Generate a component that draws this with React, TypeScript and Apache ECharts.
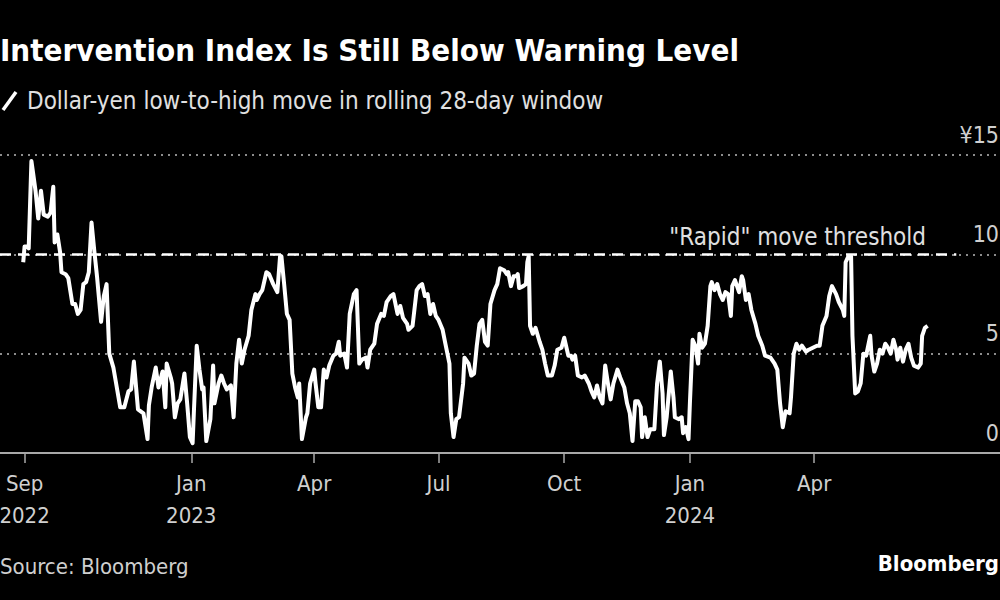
import React, { useEffect, useRef } from "react";
import * as echarts from "echarts";

const DATES = [
  "2022-08-31","2022-09-01","2022-09-03","2022-09-04","2022-09-06","2022-09-07","2022-09-09","2022-09-11","2022-09-13","2022-09-15",
  "2022-09-18","2022-09-20","2022-09-22","2022-09-23","2022-09-25","2022-09-27","2022-09-28","2022-10-01","2022-10-03","2022-10-06",
  "2022-10-08","2022-10-10","2022-10-12","2022-10-14","2022-10-16","2022-10-18","2022-10-20","2022-10-22","2022-10-24","2022-10-27",
  "2022-10-29","2022-10-31","2022-11-02","2022-11-05","2022-11-07","2022-11-10","2022-11-13","2022-11-16","2022-11-18","2022-11-20",
  "2022-11-23","2022-11-27","2022-11-30","2022-12-01","2022-12-03","2022-12-06","2022-12-08","2022-12-11","2022-12-13","2022-12-14",
  "2022-12-17","2022-12-18","2022-12-20","2022-12-22","2022-12-24","2022-12-27","2022-12-29","2022-12-31","2023-01-02","2023-01-03",
  "2023-01-05","2023-01-07","2023-01-09","2023-01-10","2023-01-12","2023-01-15","2023-01-17","2023-01-18","2023-01-21","2023-01-23",
  "2023-01-25","2023-01-27","2023-01-30","2023-02-01","2023-02-03","2023-02-05","2023-02-07","2023-02-09","2023-02-12","2023-02-14",
  "2023-02-17","2023-02-18","2023-02-20","2023-02-22","2023-02-25","2023-02-27","2023-03-02","2023-03-05","2023-03-07","2023-03-08",
  "2023-03-10","2023-03-12","2023-03-14","2023-03-16","2023-03-18","2023-03-20","2023-03-21","2023-03-23","2023-03-26","2023-03-27",
  "2023-03-29","2023-04-01","2023-04-02","2023-04-04","2023-04-06","2023-04-08","2023-04-10","2023-04-12","2023-04-15","2023-04-17",
  "2023-04-19","2023-04-20","2023-04-23","2023-04-25","2023-04-27","2023-04-30","2023-05-02","2023-05-04","2023-05-06","2023-05-09",
  "2023-05-10","2023-05-12","2023-05-15","2023-05-17","2023-05-20","2023-05-22","2023-05-24","2023-05-27","2023-05-29","2023-06-01",
  "2023-06-03","2023-06-05","2023-06-08","2023-06-09","2023-06-12","2023-06-15","2023-06-17","2023-06-19","2023-06-21","2023-06-23",
  "2023-06-25","2023-06-27","2023-06-29","2023-07-01","2023-07-04","2023-07-06","2023-07-09","2023-07-10","2023-07-12","2023-07-14",
  "2023-07-16","2023-07-19","2023-07-20","2023-07-23","2023-07-25","2023-07-27","2023-07-29","2023-07-31","2023-08-02","2023-08-04",
  "2023-08-06","2023-08-08","2023-08-11","2023-08-13","2023-08-15","2023-08-18","2023-08-20","2023-08-21","2023-08-23","2023-08-25",
  "2023-08-27","2023-08-28","2023-08-29","2023-09-01","2023-09-03","2023-09-04","2023-09-05","2023-09-06","2023-09-08","2023-09-10",
  "2023-09-13","2023-09-15","2023-09-17","2023-09-19","2023-09-22","2023-09-24","2023-09-26","2023-09-29","2023-10-01","2023-10-04",
  "2023-10-06","2023-10-07","2023-10-09","2023-10-11","2023-10-14","2023-10-16","2023-10-19","2023-10-21","2023-10-23","2023-10-25",
  "2023-10-27","2023-10-29","2023-10-31","2023-11-02","2023-11-04","2023-11-06","2023-11-09","2023-11-11","2023-11-14","2023-11-16",
  "2023-11-18","2023-11-20","2023-11-22","2023-11-24","2023-11-26","2023-11-27","2023-11-29","2023-12-01","2023-12-03","2023-12-06",
  "2023-12-08","2023-12-10","2023-12-12","2023-12-13","2023-12-15","2023-12-18","2023-12-20","2023-12-21","2023-12-24","2023-12-26",
  "2023-12-27","2023-12-29","2023-12-31","2024-01-01","2024-01-03","2024-01-05","2024-01-07","2024-01-08","2024-01-10","2024-01-12",
  "2024-01-14","2024-01-16","2024-01-17","2024-01-19","2024-01-21","2024-01-23","2024-01-25","2024-01-27","2024-01-29","2024-01-31",
  "2024-02-01","2024-02-03","2024-02-06","2024-02-08","2024-02-09","2024-02-11","2024-02-13","2024-02-15","2024-02-18","2024-02-20",
  "2024-02-23","2024-02-25","2024-02-29","2024-03-03","2024-03-05","2024-03-07","2024-03-09","2024-03-11","2024-03-14","2024-03-15",
  "2024-03-17","2024-03-19","2024-03-21","2024-03-23","2024-03-26","2024-03-28","2024-03-31","2024-04-03","2024-04-05","2024-04-07",
  "2024-04-10","2024-04-12","2024-04-14","2024-04-17","2024-04-19","2024-04-22","2024-04-23","2024-04-24","2024-04-26","2024-04-28",
  "2024-04-29","2024-05-01","2024-05-03","2024-05-05","2024-05-07","2024-05-09","2024-05-12","2024-05-13","2024-05-15","2024-05-17",
  "2024-05-19","2024-05-21","2024-05-23","2024-05-25","2024-05-27","2024-05-29","2024-05-31","2024-06-01","2024-06-03","2024-06-05",
  "2024-06-07","2024-06-09","2024-06-11","2024-06-13","2024-06-16","2024-06-18","2024-06-19","2024-06-21","2024-06-23",
];

const VALUES = [
  9.6,10.4,10.4,10.3,14.7,14.2,13.2,11.8,13.2,12.0,
  11.9,12.1,13.4,10.6,11.0,10.1,9.1,9.0,8.8,7.5,
  7.5,7.0,7.2,8.5,8.6,9.1,11.6,10.2,8.9,6.6,
  7.9,8.5,5.0,4.3,3.5,2.3,2.3,3.1,3.2,4.6,
  2.2,2.0,0.7,2.4,3.3,4.3,3.3,4.1,2.3,4.5,
  3.8,3.5,1.8,2.5,2.7,4.0,2.5,0.8,0.5,2.2,
  5.4,4.2,3.2,3.3,0.6,1.7,4.4,2.5,3.5,3.9,
  3.5,3.2,3.4,1.8,4.5,5.7,4.5,5.2,5.9,7.2,
  8.0,7.7,8.0,8.2,9.1,9.0,8.5,8.1,9.9,9.9,
  8.5,7.0,6.7,4.0,3.3,2.8,3.5,0.7,1.8,2.0,
  3.5,4.2,3.5,2.3,2.3,4.2,3.8,4.4,4.9,5.0,
  5.6,4.9,5.0,4.3,7.0,8.0,8.2,4.5,4.7,4.8,
  4.3,5.2,5.5,6.5,7.0,6.9,7.6,7.9,8.0,7.0,
  7.4,6.8,6.5,6.2,6.4,8.2,8.4,8.5,7.9,8.0,
  7.0,7.5,6.9,6.7,6.2,5.5,4.5,2.0,0.8,1.7,
  1.8,3.5,4.8,4.5,3.9,4.0,5.4,6.5,6.7,5.6,
  5.4,7.5,8.2,8.5,9.3,9.2,9.0,9.1,8.4,8.9,
  8.9,9.0,8.3,8.4,8.5,9.6,9.9,6.4,6.0,6.3,
  5.6,5.2,4.5,3.9,3.9,4.4,5.2,5.3,5.8,4.9,
  4.9,4.7,4.9,3.9,3.8,3.9,3.5,3.1,2.8,3.4,
  2.8,2.5,4.4,3.5,2.7,3.5,4.2,3.8,3.3,2.5,
  2.0,0.6,2.6,2.6,2.3,0.8,1.8,0.8,1.2,1.2,
  3.5,4.6,3.0,0.9,1.8,4.1,2.8,1.8,1.7,1.8,
  1.0,1.3,0.7,2.5,5.7,5.4,4.5,6.0,5.3,5.5,
  6.4,8.4,8.6,8.2,8.5,8.0,7.7,8.1,8.0,6.9,
  8.4,8.7,8.1,8.9,8.7,7.7,8.0,7.2,6.5,5.9,
  5.4,4.9,4.8,4.5,4.2,2.5,1.3,2.1,2.0,2.8,
  5.0,5.5,5.2,5.4,5.1,5.2,5.3,5.4,5.4,6.4,
  6.9,7.9,8.4,8.0,7.6,7.2,6.9,9.6,9.9,9.9,
  5.9,3.0,3.1,3.5,5.0,4.9,5.9,4.9,4.1,4.5,
  5.2,5.0,5.5,5.3,5.0,5.7,5.2,4.7,5.3,4.6,
  5.2,5.5,4.8,4.4,4.3,4.5,5.9,6.3,6.4,
];

const TICK_DATES = ["2022-09-01", "2023-01-01", "2023-04-01", "2023-07-01", "2023-10-01", "2024-01-01", "2024-04-01"];
const TICK_LABELS = ["Sep\n2022", "Jan\n2023", "Apr", "Jul", "Oct", "Jan\n2024", "Apr"];
const Y_TICKS = [0, 5, 10, 15];
const Y_LABELS = ["0", "5", "10", "¥15"];

const X_MIN = "2022-08-14";
const X_MAX = "2024-08-15";
const THRESHOLD = 10;
const THRESHOLD_END = "2024-07-14";
const THRESHOLD_LABEL = '"Rapid" move threshold';

const TITLE = "Intervention Index Is Still Below Warning Level";
const SUBTITLE = "Dollar-yen low-to-high move in rolling 28-day window";
const SOURCE = "Source: Bloomberg";
const BRAND = "Bloomberg";

const FONT = '"DejaVu Sans Condensed", "Liberation Sans Narrow", "DejaVu Sans", sans-serif';

function ts(s: string): number {
  const [y, m, d] = s.split("-").map(Number);
  return Date.UTC(y, m - 1, d);
}

export default function App() {
  const ref = useRef<HTMLDivElement>(null);

  useEffect(() => {
    document.body.style.margin = "0";
    document.body.style.overflow = "hidden";
    document.body.style.background = "#000";
    if (!ref.current) return;
    const chart = echarts.init(ref.current, null, { renderer: "svg" });
    const tickTs = TICK_DATES.map(ts);
    const data = DATES.map((d, i) => [ts(d), VALUES[i]]);

    chart.setOption({
      animation: false,
      backgroundColor: "#000",
      grid: {
        left: 0,
        right: 0,
        top: 155,
        bottom: 147,
        containLabel: false,
        outerBoundsMode: "none",
      },
      xAxis: {
        type: "value",
        min: ts(X_MIN),
        max: ts(X_MAX),
        axisLine: { show: true, lineStyle: { color: "#a8a8a8", width: 2 } },
        axisTick: {
          show: true,
          customValues: tickTs,
          length: 10,
          lineStyle: { color: "#a8a8a8", width: 1.5 },
        },
        axisLabel: {
          show: true,
          customValues: tickTs,
          formatter: (v: number) => {
            const i = tickTs.findIndex((t) => Math.abs(t - v) < 43200000);
            return i >= 0 ? TICK_LABELS[i] : "";
          },
          color: "#d0d0d0",
          fontFamily: FONT,
          fontSize: 22,
          lineHeight: 32,
          margin: 14,
          hideOverlap: false,
          showMinLabel: true,
          showMaxLabel: true,
        },
        splitLine: { show: false },
      },
      yAxis: {
        type: "value",
        position: "right",
        min: 0,
        max: 15,
        interval: 5,
        axisLine: { show: false },
        axisTick: { show: false },
        axisLabel: {
          show: true,
          inside: false,
          align: "right",
          margin: -1,
          verticalAlign: "bottom",
          padding: [0, 0, 9, 0],
          color: "#d0d0d0",
          fontFamily: FONT,
          fontSize: 23,
          formatter: (v: number) => {
            const i = Y_TICKS.indexOf(v);
            return i >= 0 ? Y_LABELS[i] : "";
          },
        },
        splitLine: {
          show: true,
          lineStyle: { color: "#8c8c8c", width: 2, type: [2, 5] },
        },
      },
      series: [
        {
          type: "line",
          data,
          showSymbol: false,
          symbol: "none",
          lineStyle: { color: "#ffffff", width: 4, join: "round" },
          z: 5,
          markLine: {
            silent: true,
            symbol: "none",
            label: { show: false },
            lineStyle: { color: "#ffffff", width: 2.5, type: [11, 7] },
            data: [[{ coord: [ts(X_MIN), THRESHOLD] }, { coord: [ts(THRESHOLD_END), THRESHOLD] }]],
            z: 4,
          },
        },
      ],
      graphic: [
        {
          type: "text",
          x: 0,
          y: 50,
          style: { text: TITLE, fill: "#ffffff", font: `bold 31px ${FONT}`, verticalAlign: "middle" },
        },
        {
          type: "line",
          shape: { x1: 3, y1: 110, x2: 16, y2: 92 },
          style: { stroke: "#ffffff", lineWidth: 3.5 },
        },
        {
          type: "text",
          x: 27,
          y: 101,
          style: { text: SUBTITLE, fill: "#e0e0e0", font: `24px ${FONT}`, verticalAlign: "middle" },
        },
        {
          type: "text",
          x: 926,
          y: 237,
          style: { text: THRESHOLD_LABEL, fill: "#e0e0e0", font: `24px ${FONT}`, align: "right", verticalAlign: "middle" },
        },
        {
          type: "text",
          x: 0,
          y: 566,
          style: { text: SOURCE, fill: "#cfcfcf", font: `22px ${FONT}`, verticalAlign: "middle" },
        },
        {
          type: "text",
          x: 999,
          y: 563,
          style: { text: BRAND, fill: "#ffffff", font: `bold 22px ${FONT}`, align: "right", verticalAlign: "middle" },
        },
      ],
    });

    return () => chart.dispose();
  }, []);

  return <div ref={ref} style={{ width: 1000, height: 600, overflow: "hidden", background: "#000" }} />;
}
